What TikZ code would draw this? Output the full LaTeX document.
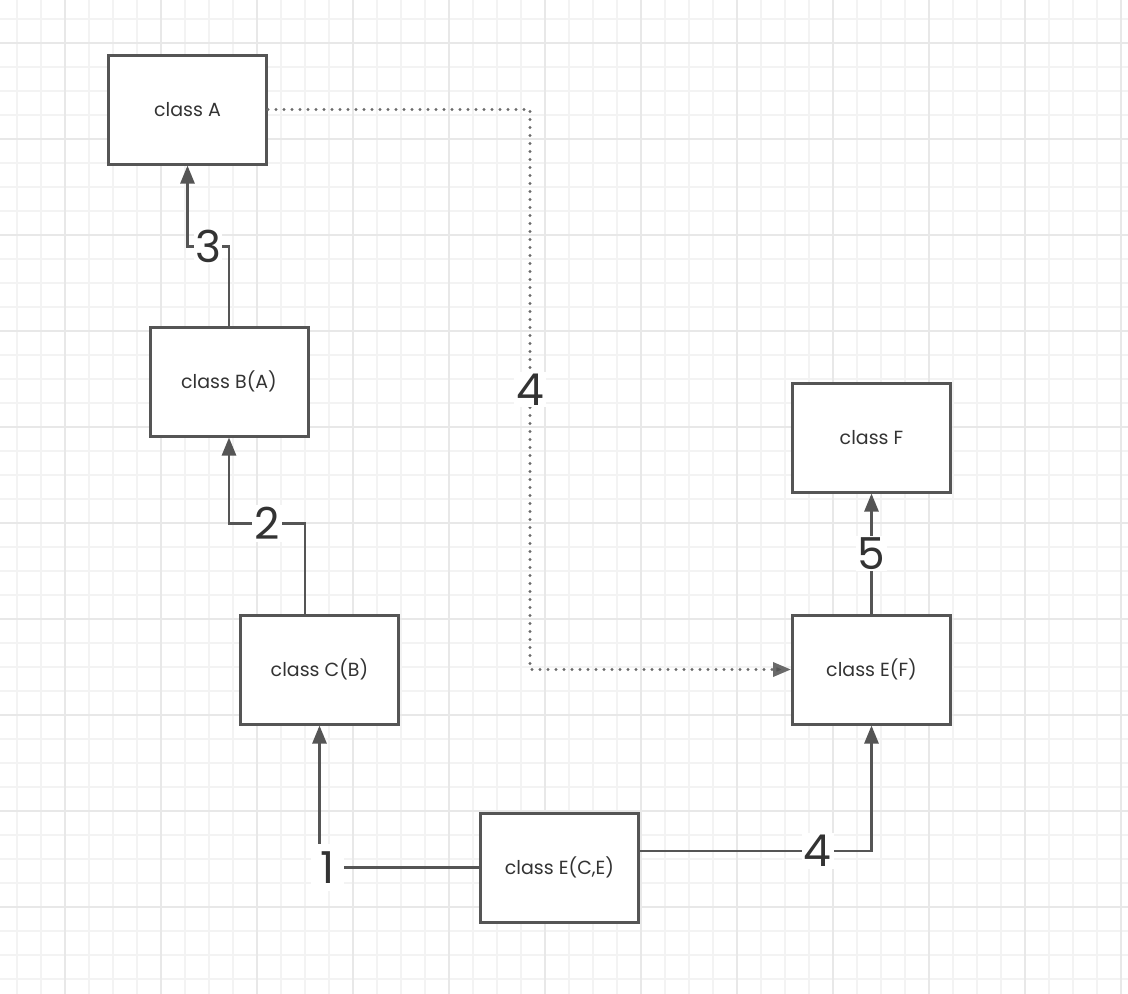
\documentclass[tikz,border=0pt]{standalone}
\usepackage{fontspec}
\setmainfont{Poppins}
\usetikzlibrary{arrows.meta,calc}
\definecolor{minorgrid}{HTML}{F3F3F3}
\definecolor{majorgrid}{HTML}{E8E8E8}
\definecolor{ink}{HTML}{555555}
\definecolor{txt}{HTML}{333333}
\definecolor{dotc}{HTML}{6A6A6A}
\tikzset{
  classbox/.style={draw=ink, line width=3pt, fill=white, minimum width=158pt, minimum height=109pt, inner sep=0pt, font=\fontsize{19}{22}\selectfont, text=txt},
  conn/.style={draw=ink, line width=2.6pt, -{Triangle[length=18pt,width=14pt]}},
  dotconn/.style={draw=dotc, line width=3.4pt, line cap=round, dash pattern=on 0pt off 8pt, -{Triangle[length=18pt,width=14pt,fill=ink]}},
  numlabel/.style={fill=white, inner sep=2pt, font=\fontsize{44}{48}\selectfont, text=txt}
}
\begin{document}
\begin{tikzpicture}[x=1pt,y=-1pt]
\useasboundingbox (0,0) rectangle (1128,994);
\fill[white] (0,0) rectangle (1128,994);
% grid
\foreach \x in {17,41,...,1128} \draw[minorgrid, line width=1.5pt] (\x,0) -- (\x,994);
\foreach \y in {19,43,...,994} \draw[minorgrid, line width=1.5pt] (0,\y) -- (1128,\y);
\foreach \x in {65,161,...,1128} \draw[majorgrid, line width=1.7pt] (\x,0) -- (\x,994);
\foreach \y in {43,139,...,994} \draw[majorgrid, line width=1.7pt] (0,\y) -- (1128,\y);
% boxes
\node[classbox] (A) at (187.5,109.5) {class A};
\node[classbox] (B) at (229,381.5) {class B(A)};
\node[classbox] (C) at (319.5,669.5) {class C(B)};
\node[classbox] (F) at (871.5,437.5) {class F};
\node[classbox] (EF) at (871.5,669.5) {class E(F)};
\node[classbox] (ECE) at (559.5,867.5) {class E(C,E)};
% connectors
\draw[conn] (B.north) -- ++(0,-79) -| node[numlabel, pos=0.25, inner sep=1pt] {3} (A.south);
\draw[conn] ($(C.north)+(-14.5,0)$) -- ++(0,-90) -| node[numlabel, pos=0.25] {2} (B.south);
\draw[conn] (ECE.west) -| node[numlabel, pos=0.475, inner xsep=9pt, inner ysep=8pt] {1} (C.south);
\draw[conn] ($(ECE.east)+(0,-16.5)$) -| node[numlabel, pos=0.384] {4} (EF.south);
\draw[conn] (EF.north) -- node[numlabel] {5} (F.south);
\draw[dotconn] (A.east) -- ++(262,0) |- node[numlabel, pos=0.25] {4} (EF.west);
\end{tikzpicture}
\end{document}
